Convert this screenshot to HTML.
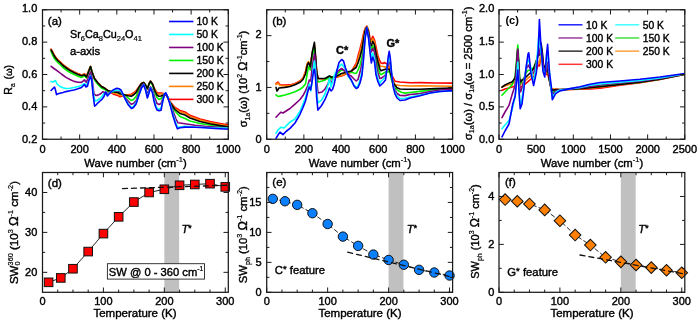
<!DOCTYPE html>
<html><head><meta charset="utf-8"><title>Figure</title>
<style>html,body{margin:0;padding:0;background:#fff;width:700px;height:321px;overflow:hidden}
svg{display:block;will-change:transform;font-family:"Liberation Sans", sans-serif}
text{stroke:#000;stroke-width:0.4px}
tspan[font-size^="6"],tspan[font-size^="7"],tspan[font-size^="8"]{stroke-width:0.2px}</style></head>
<body>
<svg width="700" height="321" viewBox="0 0 700 321" font-family='"Liberation Sans", sans-serif' fill="#000">
<rect x="0" y="0" width="700" height="321" fill="#fff"/>
<defs><clipPath id="ca"><rect x="42.5" y="9.75" width="185.8" height="129.5"/></clipPath><clipPath id="cb"><rect x="266.7" y="9.75" width="185.90000000000003" height="129.5"/></clipPath><clipPath id="cc"><rect x="499.0" y="9.75" width="185.79999999999995" height="129.5"/></clipPath></defs>
<g clip-path="url(#ca)">
<path d="M51.1 49.1 L52.5 51.6 L54 54.6 L56 57.6 L58.2 60.1 L60 61.6 L63 64.6 L66.3 67.1 L70 69.6 L74.4 71.9 L78 73.6 L81.5 74.9 L84.5 73.9 L86.5 76.1 L88.5 71.1 L90.5 66.5 L92 72 L94.6 78.8 L98 83 L101.4 86.5 L104.8 88.3 L108.3 90.8 L113.4 94.2 L118 95.5 L120 96.8 L125 95 L128 94.8 L131.2 94.3 L133.5 93 L136.2 90.6 L139 87 L141.5 83.5 L143.7 82.5 L145.5 85 L147.4 88.7 L149 84 L150.5 81.2 L152.5 84 L154.9 89.5 L157 92.5 L159 93 L161 93 L163.5 93.5 L165.8 94 L167.5 97 L170 101.5 L175 107.5 L180 110.5 L185 111.9 L190 115.3 L200 119 L210 121.5 L220 123.5 L229 125.1" fill="none" stroke="#ff0000" stroke-width="1.6" stroke-linejoin="round" stroke-linecap="round"/>
<path d="M51.1 49.4 L52.5 51.9 L54 54.9 L56 57.9 L58.2 60.4 L60 61.9 L63 64.9 L66.3 67.4 L70 69.9 L74.4 72.2 L78 73.9 L81.5 75.2 L84.5 74.2 L86.5 76.4 L88.5 71.4 L90.5 66.5 L92 72 L94.6 78.8 L98 83 L101.4 86.5 L104.8 88.3 L108.3 90.8 L113.4 93 L118 94 L120 95.5 L125 95 L128 95.2 L131.2 95 L133.5 94 L136.2 91.2 L139 87 L141.5 83.5 L143.7 82.5 L145.5 85 L147.4 88.7 L149 84 L150.5 81.2 L152.5 84 L154.9 90 L157 93.5 L159 94.3 L161 94 L163.5 94 L165.8 94 L167.5 97 L170 102 L175 108.3 L180 111.8 L185 113.3 L190 116.5 L200 120 L210 122.5 L220 124.5 L229 126.1" fill="none" stroke="#ff8000" stroke-width="1.6" stroke-linejoin="round" stroke-linecap="round"/>
<path d="M51.1 51.5 L52.5 55 L54 58 L56 60.5 L58.2 63 L60 64.5 L63 67.5 L66.3 70 L70 72.5 L74.4 74.5 L78 76.3 L81.5 77.4 L84.5 76 L86.5 78 L88.5 72 L90.5 66.8 L92 72 L94.6 80 L98 84.5 L101.4 88 L104.8 89.5 L108.3 91.5 L113.4 92 L118 92.5 L120 93 L125 95 L128 97.8 L131.2 100.5 L133.5 99.5 L136.2 96.2 L139 89.5 L141.5 84 L143.7 82.5 L145.5 85 L147.4 88.7 L149 84 L150.5 81.8 L152.5 85 L154.9 92.5 L157 97.5 L159 99.5 L161 98.5 L163.5 95.5 L165.8 93.8 L167.5 97 L170 102.5 L175 111 L180 116.5 L185 118.5 L190 121 L200 123.5 L210 125 L220 126.3 L229 127.5" fill="none" stroke="#00f000" stroke-width="1.6" stroke-linejoin="round" stroke-linecap="round"/>
<path d="M51.1 50 L52.5 52.5 L54 55.5 L56 58.5 L58.2 61 L60 62.5 L63 65.5 L66.3 68 L70 70.5 L74.4 72.8 L78 74.5 L81.5 75.8 L84.5 74.8 L86.5 77 L88.5 72 L90.5 66.5 L92 72 L94.6 78.8 L98 83 L101.4 86.5 L104.8 88.3 L108.3 90.8 L113.4 91.7 L118 92.5 L120 93.7 L125 95 L128 95.8 L131.2 96.2 L133.5 95 L136.2 92.4 L139 87 L141.5 83.5 L143.7 82.5 L145.5 85 L147.4 88.7 L149 84 L150.5 81.2 L152.5 84 L154.9 91 L157 95 L159 96.3 L161 96 L163.5 95 L165.8 94 L167.5 97 L170 102.5 L175 109.5 L180 113.5 L185 115.1 L190 118 L200 121.5 L210 123.8 L220 125.6 L229 127" fill="none" stroke="#000000" stroke-width="1.6" stroke-linejoin="round" stroke-linecap="round"/>
<path d="M51.1 66.3 L54 68.5 L58 71.3 L62 74.5 L66 77.4 L70 79.5 L74 81.4 L78 82.2 L81.5 82.4 L84.5 79.8 L86.5 82.4 L88.5 77 L90.5 72 L92 78 L94 94.2 L96 95.5 L98 95.1 L101 93.5 L103 91.7 L105.5 93.5 L108 93.4 L110.5 92 L113 91 L117 90.5 L121 92 L125 97.4 L128 101 L131.2 104.3 L133.5 103.5 L136.2 100.5 L139 93 L141.5 86 L143.7 83.5 L145.5 88 L147.4 94.3 L149 89.5 L150.5 86.8 L152.5 90 L154.9 98 L157 103.5 L159 104.5 L161 103.5 L163 98 L165.8 93.5 L167.5 97 L170 103 L173 111 L176 119 L178 122.8 L185 123.7 L195 125.2 L205 126.3 L215 127.1 L229 128" fill="none" stroke="#800080" stroke-width="1.6" stroke-linejoin="round" stroke-linecap="round"/>
<path d="M51.1 81.4 L53 82 L55.5 80.5 L57 84 L60 86.5 L63 87.8 L66 88.5 L70 88.2 L74 87.5 L78 86.5 L81.5 85.5 L84.5 83.5 L86.5 85.5 L88.5 81 L90.5 75.4 L92 82 L93.5 95 L95 101 L97 100.5 L100 98.5 L102 96.5 L104 93.4 L107 95.1 L110 92.5 L113 91 L117 90 L121 91 L125 98.5 L128 103.5 L131.2 107.4 L133.5 106.5 L136.2 102.5 L139 95 L141.5 88 L143.7 84.5 L145.5 89 L147.4 97 L149 92 L150.5 87.5 L152.5 92 L154 99 L155.5 104.5 L157 108.5 L159 109.3 L161 108.5 L162.8 100 L164.5 94 L165.8 93 L167.3 96 L169 100 L170.5 105 L173 114 L175.5 122 L177.4 127.5 L180 127 L185 126.2 L195 127 L210 127.8 L229 128" fill="none" stroke="#00ffff" stroke-width="1.6" stroke-linejoin="round" stroke-linecap="round"/>
<path d="M51.1 90.5 L53 88.5 L54.5 87.1 L55.5 90 L56.5 94.6 L58 93.8 L60 93.2 L63 92.5 L66 91.6 L70 90.8 L74 90 L78 88.8 L81.5 87.5 L83.5 85.5 L84.5 84.5 L86 87 L87.5 86 L89 80 L90.5 76.3 L91.7 80 L93 94.2 L94.6 106.2 L96 105 L98 102.8 L100 101 L102 99.4 L104 96.5 L105.7 91.7 L107.4 96 L109 94.2 L111 92 L113 90 L116.8 88.3 L119 88.8 L121 90 L123 94 L125.4 99.4 L128 104.5 L131.4 108.5 L133.5 107.5 L136.2 103.7 L139 95 L141.5 88 L143.7 85 L145.5 90 L147.4 98 L149 93 L150.5 88 L152.5 93 L154 101 L155.5 106.5 L157 110 L159 110.8 L161 110.3 L162.8 101 L164.5 94 L165.8 92.8 L167.3 96 L169 101 L170.5 106.5 L173 116 L175.5 124 L177.4 128.8 L180 127.8 L185 127.1 L195 127.3 L205 127.8 L215 128.5 L229 129.3" fill="none" stroke="#0000ff" stroke-width="1.6" stroke-linejoin="round" stroke-linecap="round"/>
</g>
<line x1="169.1" y1="21.5" x2="193.4" y2="21.5" stroke="#0000ff" stroke-width="1.6"/>
<text x="196.6" y="25.2" font-size="10.4" text-anchor="start" font-weight="normal" font-style="normal">10 K</text>
<line x1="169.1" y1="34.48" x2="193.4" y2="34.48" stroke="#00ffff" stroke-width="1.6"/>
<text x="196.6" y="38.18" font-size="10.4" text-anchor="start" font-weight="normal" font-style="normal">50 K</text>
<line x1="169.1" y1="47.46" x2="193.4" y2="47.46" stroke="#800080" stroke-width="1.6"/>
<text x="196.6" y="51.16" font-size="10.4" text-anchor="start" font-weight="normal" font-style="normal">100 K</text>
<line x1="169.1" y1="60.44" x2="193.4" y2="60.44" stroke="#00f000" stroke-width="1.6"/>
<text x="196.6" y="64.14" font-size="10.4" text-anchor="start" font-weight="normal" font-style="normal">150 K</text>
<line x1="169.1" y1="73.42" x2="193.4" y2="73.42" stroke="#000000" stroke-width="1.6"/>
<text x="196.6" y="77.12" font-size="10.4" text-anchor="start" font-weight="normal" font-style="normal">200 K</text>
<line x1="169.1" y1="86.4" x2="193.4" y2="86.4" stroke="#ff8000" stroke-width="1.6"/>
<text x="196.6" y="90.1" font-size="10.4" text-anchor="start" font-weight="normal" font-style="normal">250 K</text>
<line x1="169.1" y1="99.38" x2="193.4" y2="99.38" stroke="#ff0000" stroke-width="1.6"/>
<text x="196.6" y="103.08" font-size="10.4" text-anchor="start" font-weight="normal" font-style="normal">300 K</text>
<rect x="42.5" y="9.75" width="185.8" height="129.5" fill="none" stroke="#1a1a1a" stroke-width="1.25"/>
<line x1="42.5" y1="139.25" x2="42.5" y2="134.45" stroke="#1a1a1a" stroke-width="1.0"/>
<line x1="42.5" y1="9.75" x2="42.5" y2="14.55" stroke="#1a1a1a" stroke-width="1.0"/>
<line x1="79.66" y1="139.25" x2="79.66" y2="134.45" stroke="#1a1a1a" stroke-width="1.0"/>
<line x1="79.66" y1="9.75" x2="79.66" y2="14.55" stroke="#1a1a1a" stroke-width="1.0"/>
<line x1="116.82" y1="139.25" x2="116.82" y2="134.45" stroke="#1a1a1a" stroke-width="1.0"/>
<line x1="116.82" y1="9.75" x2="116.82" y2="14.55" stroke="#1a1a1a" stroke-width="1.0"/>
<line x1="153.98" y1="139.25" x2="153.98" y2="134.45" stroke="#1a1a1a" stroke-width="1.0"/>
<line x1="153.98" y1="9.75" x2="153.98" y2="14.55" stroke="#1a1a1a" stroke-width="1.0"/>
<line x1="191.14" y1="139.25" x2="191.14" y2="134.45" stroke="#1a1a1a" stroke-width="1.0"/>
<line x1="191.14" y1="9.75" x2="191.14" y2="14.55" stroke="#1a1a1a" stroke-width="1.0"/>
<line x1="228.3" y1="139.25" x2="228.3" y2="134.45" stroke="#1a1a1a" stroke-width="1.0"/>
<line x1="228.3" y1="9.75" x2="228.3" y2="14.55" stroke="#1a1a1a" stroke-width="1.0"/>
<line x1="61.08" y1="139.25" x2="61.08" y2="136.55" stroke="#1a1a1a" stroke-width="1.0"/>
<line x1="61.08" y1="9.75" x2="61.08" y2="12.45" stroke="#1a1a1a" stroke-width="1.0"/>
<line x1="98.24" y1="139.25" x2="98.24" y2="136.55" stroke="#1a1a1a" stroke-width="1.0"/>
<line x1="98.24" y1="9.75" x2="98.24" y2="12.45" stroke="#1a1a1a" stroke-width="1.0"/>
<line x1="135.4" y1="139.25" x2="135.4" y2="136.55" stroke="#1a1a1a" stroke-width="1.0"/>
<line x1="135.4" y1="9.75" x2="135.4" y2="12.45" stroke="#1a1a1a" stroke-width="1.0"/>
<line x1="172.56" y1="139.25" x2="172.56" y2="136.55" stroke="#1a1a1a" stroke-width="1.0"/>
<line x1="172.56" y1="9.75" x2="172.56" y2="12.45" stroke="#1a1a1a" stroke-width="1.0"/>
<line x1="209.72" y1="139.25" x2="209.72" y2="136.55" stroke="#1a1a1a" stroke-width="1.0"/>
<line x1="209.72" y1="9.75" x2="209.72" y2="12.45" stroke="#1a1a1a" stroke-width="1.0"/>
<line x1="42.5" y1="139.25" x2="47.3" y2="139.25" stroke="#1a1a1a" stroke-width="1.0"/>
<line x1="228.3" y1="139.25" x2="223.5" y2="139.25" stroke="#1a1a1a" stroke-width="1.0"/>
<line x1="42.5" y1="106.88" x2="47.3" y2="106.88" stroke="#1a1a1a" stroke-width="1.0"/>
<line x1="228.3" y1="106.88" x2="223.5" y2="106.88" stroke="#1a1a1a" stroke-width="1.0"/>
<line x1="42.5" y1="74.5" x2="47.3" y2="74.5" stroke="#1a1a1a" stroke-width="1.0"/>
<line x1="228.3" y1="74.5" x2="223.5" y2="74.5" stroke="#1a1a1a" stroke-width="1.0"/>
<line x1="42.5" y1="42.12" x2="47.3" y2="42.12" stroke="#1a1a1a" stroke-width="1.0"/>
<line x1="228.3" y1="42.12" x2="223.5" y2="42.12" stroke="#1a1a1a" stroke-width="1.0"/>
<line x1="42.5" y1="9.75" x2="47.3" y2="9.75" stroke="#1a1a1a" stroke-width="1.0"/>
<line x1="228.3" y1="9.75" x2="223.5" y2="9.75" stroke="#1a1a1a" stroke-width="1.0"/>
<line x1="42.5" y1="123.06" x2="45.2" y2="123.06" stroke="#1a1a1a" stroke-width="1.0"/>
<line x1="228.3" y1="123.06" x2="225.6" y2="123.06" stroke="#1a1a1a" stroke-width="1.0"/>
<line x1="42.5" y1="90.69" x2="45.2" y2="90.69" stroke="#1a1a1a" stroke-width="1.0"/>
<line x1="228.3" y1="90.69" x2="225.6" y2="90.69" stroke="#1a1a1a" stroke-width="1.0"/>
<line x1="42.5" y1="58.31" x2="45.2" y2="58.31" stroke="#1a1a1a" stroke-width="1.0"/>
<line x1="228.3" y1="58.31" x2="225.6" y2="58.31" stroke="#1a1a1a" stroke-width="1.0"/>
<line x1="42.5" y1="25.94" x2="45.2" y2="25.94" stroke="#1a1a1a" stroke-width="1.0"/>
<line x1="228.3" y1="25.94" x2="225.6" y2="25.94" stroke="#1a1a1a" stroke-width="1.0"/>
<text x="37.3" y="142.85" font-size="11" text-anchor="end" font-weight="normal" font-style="normal">0.2</text>
<text x="37.3" y="110.2" font-size="11" text-anchor="end" font-weight="normal" font-style="normal">0.4</text>
<text x="37.3" y="77.55" font-size="11" text-anchor="end" font-weight="normal" font-style="normal">0.6</text>
<text x="37.3" y="44.9" font-size="11" text-anchor="end" font-weight="normal" font-style="normal">0.8</text>
<text x="37.3" y="12.25" font-size="11" text-anchor="end" font-weight="normal" font-style="normal">1.0</text>
<text x="42.5" y="153" font-size="11" text-anchor="middle" font-weight="normal" font-style="normal">0</text>
<text x="79.66" y="153" font-size="11" text-anchor="middle" font-weight="normal" font-style="normal">200</text>
<text x="116.82" y="153" font-size="11" text-anchor="middle" font-weight="normal" font-style="normal">400</text>
<text x="153.98" y="153" font-size="11" text-anchor="middle" font-weight="normal" font-style="normal">600</text>
<text x="191.14" y="153" font-size="11" text-anchor="middle" font-weight="normal" font-style="normal">800</text>
<text x="228.3" y="153" font-size="11" text-anchor="middle" font-weight="normal" font-style="normal">1000</text>
<text x="47.8" y="24.8" font-size="11.5" text-anchor="start" font-weight="normal" font-style="normal">(a)</text>
<text x="70" y="38.3" font-size="10.8">Sr<tspan font-size="7.5" dy="3">6</tspan><tspan dy="-3">Ca</tspan><tspan font-size="7.5" dy="3">8</tspan><tspan dy="-3">Cu</tspan><tspan font-size="7.5" dy="3">24</tspan><tspan dy="-3">O</tspan><tspan font-size="7.5" dy="3">41</tspan></text>
<text x="70" y="55.2" font-size="11.3" text-anchor="start" font-weight="normal" font-style="normal">a-axis</text>
<text x="135.5" y="167" font-size="11.3" text-anchor="middle">Wave number (cm<tspan font-size="7.5" dy="-5.3">-1</tspan><tspan dy="5.3">)</tspan></text>
<text transform="translate(12.2,79.8) rotate(-90)" font-size="10.6" text-anchor="middle"><tspan font-size="10.6">R</tspan><tspan font-size="6.78" style="stroke-width:0.2px" dy="2.65">a</tspan><tspan font-size="10.6" dy="-2.65" dx="0.8"> (</tspan><tspan font-size="9.75">ω</tspan><tspan font-size="10.6">)</tspan></text>
<g clip-path="url(#cb)">
<path d="M276 83.6 L278 82 L280 84.9 L285 85 L290 84.9 L295 83.5 L300 81 L303 78 L305.5 71.5 L307.3 64 L308.5 62.5 L310.3 65.5 L312.3 54 L314.4 46 L315.5 58 L316.7 72 L318 78.5 L325 79 L330 77.5 L336 77.2 L341.6 76 L345.5 74.3 L351.2 72.2 L354 67 L356.2 63.5 L358 56 L360 49 L362 41 L363.5 34 L365 28.5 L366.8 26.2 L368.5 30 L370.3 40.5 L371.3 39.5 L372.8 36.3 L374.5 40 L376 47 L378 56 L379.8 61 L381 63 L383 63.5 L384.4 62.5 L386 63.5 L388 64.3 L390 70 L392 75.5 L395 81.2 L400 82 L410 82.8 L420 82.6 L435 83 L454 83.1" fill="none" stroke="#ff0000" stroke-width="1.6" stroke-linejoin="round" stroke-linecap="round"/>
<path d="M276 84.5 L278 83 L280 85.5 L285 86 L290 85.5 L295 84 L300 81.5 L303 78.5 L305.5 72 L307.3 63.5 L308.5 61.5 L310.3 65 L312.3 53 L314.4 44.5 L315.5 57 L316.7 72 L318 78.5 L325 79 L330 77.5 L336 77 L341.6 75.5 L345.5 73.8 L351.2 72 L354 68 L356.2 65.5 L358 59 L360 52 L362 44 L363.5 36 L365 29.5 L366.8 26.5 L368.5 31 L370.3 41.5 L371.3 42 L372.8 38.5 L374.5 42 L376 50 L378 59 L379.8 65.5 L381 66.2 L383 66.5 L386 67.1 L388 67.5 L389.2 67 L390.5 71 L392 78 L395 84.9 L400 85.5 L410 86 L420 85.9 L435 86 L454 86.2" fill="none" stroke="#ff8000" stroke-width="1.6" stroke-linejoin="round" stroke-linecap="round"/>
<path d="M276 94.8 L278 96.5 L280 96.1 L285 95 L290 93.6 L295 91.7 L300 89.3 L303 87 L305.5 83.9 L307.5 72 L308.5 66.5 L310.3 70 L312 58 L314.4 47.4 L315.5 58 L316.7 74 L318 82 L322 81 L325 80 L328 78 L329.5 76 L331 79 L332.5 77 L334 76.5 L337 74 L341.6 70 L345.5 71 L351.2 72.2 L354 73 L356.2 73.5 L358 70 L360 65 L362 57 L363.5 46 L365 33 L366.8 27.2 L368.5 33 L370.3 47 L371.3 49 L372.8 45.7 L374.5 50 L376 58 L378 67 L379.8 73.5 L381 74.6 L383 73.5 L386 71.8 L388 72 L389.2 71 L390.5 75 L392 82 L395 88 L398 90.5 L402 92.5 L405 93.1 L410 92.5 L420 91.4 L435 89.5 L454 88.7" fill="none" stroke="#00f000" stroke-width="1.6" stroke-linejoin="round" stroke-linecap="round"/>
<path d="M276 87.4 L277 91.1 L279 88 L285 87.4 L290 86.5 L295 84.7 L300 82.3 L303 79.5 L305.5 74 L307.3 65 L308.5 62.6 L310.3 66.8 L312.3 52 L314.4 42.4 L315.5 55 L316.7 72 L318 78.5 L325 78.5 L329.5 76 L332 77.5 L336 76.5 L341.6 73.5 L345.5 72.5 L351.2 71 L354 69 L356.2 67.3 L358 63 L360 57 L362 49 L363.5 40 L365 31 L366.8 27.2 L368.5 32 L370.3 44 L371.3 45.7 L372.8 41.4 L374.5 45 L376 53 L378 62 L379.8 68.5 L381 70.8 L383 70 L386 69 L388 69.5 L389.2 69 L390.5 73 L392 79 L394 84 L397 87.7 L400 89 L405 89.3 L420 89.2 L435 88.6 L454 88.1" fill="none" stroke="#000000" stroke-width="1.6" stroke-linejoin="round" stroke-linecap="round"/>
<path d="M276 117.2 L279 114 L281 112.2 L283 113 L290 108.5 L295 104.1 L300 99.5 L303 95.6 L305.5 90.9 L307.8 85.5 L309.3 80 L310.8 81 L312.3 66 L314.5 53.6 L315.5 62 L316.7 80 L318 93 L322 92 L325 89 L328 84 L329.5 79 L331 84 L332.5 80 L334 77 L336 74 L338 71 L341.6 68.5 L345.5 71.5 L348 74.5 L351.2 76 L354 79 L356.2 81 L358 79.5 L360 72 L362 64 L363.5 52 L365 36 L366.8 27.3 L368.5 35 L370.3 49 L371.3 52 L372.8 48.3 L374.5 52 L376 63 L378 73 L379.8 78.5 L381 78.3 L383 77 L385.5 75 L387 69 L388.2 64 L389.2 62 L390.3 65 L391.5 74 L393 84 L395 90 L397 93.5 L400 95.5 L405 95.6 L410 94.5 L420 93.6 L430 91.5 L440 90 L454 89.3" fill="none" stroke="#800080" stroke-width="1.6" stroke-linejoin="round" stroke-linecap="round"/>
<path d="M276 133.4 L278 130 L281 127.2 L284 128 L290 122.2 L295 119 L300 111.2 L303 104.1 L305.5 97.9 L307.8 89.3 L309.3 84 L310.8 91 L312.3 80 L313.6 66 L314.5 61 L315.5 70 L316.7 90 L317.9 103 L321.6 100 L325 94 L328 85 L329.5 78.4 L331 87 L332.5 82 L334 76 L336 72 L338 68 L341.6 64 L345.5 69 L348 76 L351.2 80.5 L354 85 L356.2 87.2 L358 86 L360 80 L362 72 L363.5 57 L365 38 L366.8 27.5 L368.5 37 L370.3 52 L371.3 58 L372.8 53 L374.5 58 L376 70 L378 79 L379.8 83.4 L381 81.1 L383 79.5 L385.5 77 L387 68 L388.2 60 L389.2 57 L390.3 61 L391.5 72 L393 84 L395 92 L397 96 L400 98.5 L405 98.2 L410 97 L420 95 L430 93 L440 91.5 L454 90.6" fill="none" stroke="#00ffff" stroke-width="1.6" stroke-linejoin="round" stroke-linecap="round"/>
<path d="M276 138.4 L278 135 L280 132.1 L283 134.6 L286 131.5 L290 128.4 L295 123 L300 114.3 L303.1 107.3 L305.5 101 L307.8 91.7 L309.2 87 L310.6 90 L312 82 L313.5 71 L314.5 69.2 L315.5 78 L316.7 98 L317.9 110.1 L321.6 105.5 L325.3 98.9 L328.1 92 L329.5 88 L331 91 L332.5 89.5 L334 85 L335.5 78 L337 70 L339 62.5 L341.6 59.5 L343.5 61 L345.5 68 L348 75 L351.2 79.7 L354 86 L356.2 88.5 L358 87.5 L360 83 L362 75 L363.5 60 L365 40 L366.8 27.7 L368.5 38 L370.3 55 L371.3 63 L372.8 57 L374.5 62 L376 74.8 L378 82 L379.8 85.9 L381 84.9 L383 83 L385.5 80 L387 68 L388.2 57 L389.2 51.4 L390.3 58 L391.5 72 L393 86 L395 94 L397 98 L400 100.5 L405 100 L410 98 L420 95.7 L430 93 L440 91.5 L454 90.6" fill="none" stroke="#0000ff" stroke-width="1.6" stroke-linejoin="round" stroke-linecap="round"/>
</g>
<rect x="266.7" y="9.75" width="185.9" height="129.5" fill="none" stroke="#1a1a1a" stroke-width="1.25"/>
<line x1="266.7" y1="139.25" x2="266.7" y2="134.45" stroke="#1a1a1a" stroke-width="1.0"/>
<line x1="266.7" y1="9.75" x2="266.7" y2="14.55" stroke="#1a1a1a" stroke-width="1.0"/>
<line x1="303.88" y1="139.25" x2="303.88" y2="134.45" stroke="#1a1a1a" stroke-width="1.0"/>
<line x1="303.88" y1="9.75" x2="303.88" y2="14.55" stroke="#1a1a1a" stroke-width="1.0"/>
<line x1="341.06" y1="139.25" x2="341.06" y2="134.45" stroke="#1a1a1a" stroke-width="1.0"/>
<line x1="341.06" y1="9.75" x2="341.06" y2="14.55" stroke="#1a1a1a" stroke-width="1.0"/>
<line x1="378.24" y1="139.25" x2="378.24" y2="134.45" stroke="#1a1a1a" stroke-width="1.0"/>
<line x1="378.24" y1="9.75" x2="378.24" y2="14.55" stroke="#1a1a1a" stroke-width="1.0"/>
<line x1="415.42" y1="139.25" x2="415.42" y2="134.45" stroke="#1a1a1a" stroke-width="1.0"/>
<line x1="415.42" y1="9.75" x2="415.42" y2="14.55" stroke="#1a1a1a" stroke-width="1.0"/>
<line x1="452.6" y1="139.25" x2="452.6" y2="134.45" stroke="#1a1a1a" stroke-width="1.0"/>
<line x1="452.6" y1="9.75" x2="452.6" y2="14.55" stroke="#1a1a1a" stroke-width="1.0"/>
<line x1="285.29" y1="139.25" x2="285.29" y2="136.55" stroke="#1a1a1a" stroke-width="1.0"/>
<line x1="285.29" y1="9.75" x2="285.29" y2="12.45" stroke="#1a1a1a" stroke-width="1.0"/>
<line x1="322.47" y1="139.25" x2="322.47" y2="136.55" stroke="#1a1a1a" stroke-width="1.0"/>
<line x1="322.47" y1="9.75" x2="322.47" y2="12.45" stroke="#1a1a1a" stroke-width="1.0"/>
<line x1="359.65" y1="139.25" x2="359.65" y2="136.55" stroke="#1a1a1a" stroke-width="1.0"/>
<line x1="359.65" y1="9.75" x2="359.65" y2="12.45" stroke="#1a1a1a" stroke-width="1.0"/>
<line x1="396.83" y1="139.25" x2="396.83" y2="136.55" stroke="#1a1a1a" stroke-width="1.0"/>
<line x1="396.83" y1="9.75" x2="396.83" y2="12.45" stroke="#1a1a1a" stroke-width="1.0"/>
<line x1="434.01" y1="139.25" x2="434.01" y2="136.55" stroke="#1a1a1a" stroke-width="1.0"/>
<line x1="434.01" y1="9.75" x2="434.01" y2="12.45" stroke="#1a1a1a" stroke-width="1.0"/>
<line x1="266.7" y1="139.25" x2="271.5" y2="139.25" stroke="#1a1a1a" stroke-width="1.0"/>
<line x1="452.6" y1="139.25" x2="447.8" y2="139.25" stroke="#1a1a1a" stroke-width="1.0"/>
<line x1="266.7" y1="87.45" x2="271.5" y2="87.45" stroke="#1a1a1a" stroke-width="1.0"/>
<line x1="452.6" y1="87.45" x2="447.8" y2="87.45" stroke="#1a1a1a" stroke-width="1.0"/>
<line x1="266.7" y1="35.65" x2="271.5" y2="35.65" stroke="#1a1a1a" stroke-width="1.0"/>
<line x1="452.6" y1="35.65" x2="447.8" y2="35.65" stroke="#1a1a1a" stroke-width="1.0"/>
<line x1="266.7" y1="113.35" x2="269.4" y2="113.35" stroke="#1a1a1a" stroke-width="1.0"/>
<line x1="452.6" y1="113.35" x2="449.9" y2="113.35" stroke="#1a1a1a" stroke-width="1.0"/>
<line x1="266.7" y1="61.55" x2="269.4" y2="61.55" stroke="#1a1a1a" stroke-width="1.0"/>
<line x1="452.6" y1="61.55" x2="449.9" y2="61.55" stroke="#1a1a1a" stroke-width="1.0"/>
<line x1="266.7" y1="9.75" x2="269.4" y2="9.75" stroke="#1a1a1a" stroke-width="1.0"/>
<line x1="452.6" y1="9.75" x2="449.9" y2="9.75" stroke="#1a1a1a" stroke-width="1.0"/>
<text x="261.5" y="142.85" font-size="11" text-anchor="end" font-weight="normal" font-style="normal">0</text>
<text x="261.5" y="90.61" font-size="11" text-anchor="end" font-weight="normal" font-style="normal">1</text>
<text x="261.5" y="38.37" font-size="11" text-anchor="end" font-weight="normal" font-style="normal">2</text>
<text x="266.7" y="153" font-size="11" text-anchor="middle" font-weight="normal" font-style="normal">0</text>
<text x="303.88" y="153" font-size="11" text-anchor="middle" font-weight="normal" font-style="normal">200</text>
<text x="341.06" y="153" font-size="11" text-anchor="middle" font-weight="normal" font-style="normal">400</text>
<text x="378.24" y="153" font-size="11" text-anchor="middle" font-weight="normal" font-style="normal">600</text>
<text x="415.42" y="153" font-size="11" text-anchor="middle" font-weight="normal" font-style="normal">800</text>
<text x="452.6" y="153" font-size="11" text-anchor="middle" font-weight="normal" font-style="normal">1000</text>
<text x="272.3" y="24.8" font-size="11.5" text-anchor="start" font-weight="normal" font-style="normal">(b)</text>
<text x="336" y="53.6" font-size="11" text-anchor="start" font-weight="bold" font-style="normal">C*</text>
<text x="386.4" y="47" font-size="11" text-anchor="start" font-weight="bold" font-style="normal">G*</text>
<text x="360" y="167" font-size="11.3" text-anchor="middle">Wave number (cm<tspan font-size="7.5" dy="-5.3">-1</tspan><tspan dy="5.3">)</tspan></text>
<text transform="translate(247,79) rotate(-90)" font-size="11" text-anchor="middle"><tspan font-size="11">σ</tspan><tspan font-size="7.04" style="stroke-width:0.2px" dy="2.75">1a</tspan><tspan font-size="11" dy="-2.75">(</tspan><tspan font-size="11">ω</tspan><tspan font-size="11">) (10</tspan><tspan font-size="7.04" style="stroke-width:0.2px" dy="-4.62">2</tspan><tspan font-size="11" dy="4.62"> </tspan><tspan font-size="12.32">Ω</tspan><tspan font-size="7.04" style="stroke-width:0.2px" dy="-4.62">-1</tspan><tspan font-size="11" dy="4.62">cm</tspan><tspan font-size="7.04" style="stroke-width:0.2px" dy="-4.62">-1</tspan><tspan font-size="11" dy="4.62">)</tspan></text>
<g clip-path="url(#cc)">
<path d="M502 90.2 L505 89 L509 88 L512 87 L515.2 86 L516.5 80 L517.8 74 L518.8 80 L519.8 87 L521 87 L523 86 L525 84 L528 81.7 L531 79 L534 76 L536 71 L538 65 L539.5 66 L541.1 55 L542.5 62 L544 70 L546 74 L548 75 L549.5 81 L551 88 L552 89.5 L556 89.5 L560 89.8 L570 89.5 L580 89.2 L590 89 L600 88.1 L620 85.3 L640 82.6 L660 79.5 L686 74.1" fill="none" stroke="#ff0000" stroke-width="1.6" stroke-linejoin="round" stroke-linecap="round"/>
<path d="M502 87 L505 86 L509 84.5 L512 84 L515.2 82 L516.5 76 L517.8 68 L518.8 75 L519.8 84 L521 84 L523 83 L525 81 L528 78 L531 76 L534 73 L536 68 L538 62 L539.5 63 L541.1 52 L542.5 60 L544 68 L546 72 L548 73 L549.5 80 L551 87 L552 89 L556 89 L560 89.5 L570 89.4 L580 89 L590 88.3 L600 87.3 L620 84.8 L640 82.4 L660 79.3 L686 74" fill="none" stroke="#ff8000" stroke-width="1.6" stroke-linejoin="round" stroke-linecap="round"/>
<path d="M502 95.3 L505 92 L509 88 L512 85 L515.2 76 L516.5 60 L517.8 45 L518.8 60 L519.8 80 L520.5 84 L522 81 L524 78 L526 73 L528 70.5 L531 70 L534 67 L536 62 L537.5 57 L538.7 50 L539.7 54 L541.1 45 L542.3 54 L543.5 66 L546 71 L547.5 67 L549 78 L551 88 L552 93 L556 90 L560 89.7 L570 89.2 L580 88.5 L590 87.1 L600 86.2 L620 84 L640 82.1 L660 79 L686 74" fill="none" stroke="#00f000" stroke-width="1.6" stroke-linejoin="round" stroke-linecap="round"/>
<path d="M502 87.2 L505 85 L509 83.1 L512 82 L515.2 78 L516.5 65 L517.6 50 L518.6 62 L519.5 78 L520.5 82 L522 80 L524 79 L526 77 L528 75 L531 72.4 L534 67.7 L536 62 L537.5 57 L538.7 52 L539.7 55 L541.1 43.4 L542.3 52 L543.5 64.9 L546 70.5 L547.5 68 L549 78 L551 87.3 L552 90.4 L556 89.5 L560 89.6 L570 89.3 L580 88.8 L590 87.8 L600 86.7 L620 84.5 L640 82.3 L660 79.2 L686 74" fill="none" stroke="#000000" stroke-width="1.6" stroke-linejoin="round" stroke-linecap="round"/>
<path d="M502 117.6 L505 112 L509 105.4 L512 95 L515.2 85 L516.5 68 L517.8 49 L518.8 66 L519.8 88 L520.5 92 L522 88 L524 80 L526 70 L528 65 L530 68 L532 74 L534 72 L536 64 L537.5 56 L538.7 48 L539.7 54 L541.1 50 L542.3 56 L543.5 68 L546 72 L547.5 62 L549 76 L551 89 L552 95 L556 90.5 L560 89.8 L570 89 L580 88 L590 86.5 L600 85 L620 83 L640 81.3 L660 78.5 L686 73.8" fill="none" stroke="#800080" stroke-width="1.6" stroke-linejoin="round" stroke-linecap="round"/>
<path d="M502 128.7 L505 125 L509 120.6 L512 110 L515.2 96 L516.5 80 L517.8 62 L518.8 80 L519.8 105 L521 104 L523 92 L525 75 L527 63 L528.5 60 L530.5 66 L532.5 78 L534 80 L536 68 L537.5 52 L538.8 35 L540 45 L541.3 55 L543 70 L545 74 L547.5 50 L549 68 L551 88 L552.3 97.4 L556 92 L560 90 L570 88.8 L580 87.5 L590 85.3 L600 84 L620 82.2 L640 80.5 L660 78 L686 73.6" fill="none" stroke="#00ffff" stroke-width="1.6" stroke-linejoin="round" stroke-linecap="round"/>
<path d="M502 136.8 L505 131 L509 124 L512.75 104 L515.2 96 L516.5 82 L517.8 70 L518.8 88 L520.2 108.75 L522 104 L524 88 L526 68 L528 54 L528.8 52.8 L530.8 72.4 L533.6 85.5 L536.4 72.4 L538.3 50 L539.4 19.5 L540.6 40 L543 71.4 L544.8 77 L546.5 55 L547.6 44.3 L549.5 72.4 L551.4 87.3 L552.3 99.8 L555.6 93.7 L560 90.9 L570 88.6 L580 86.7 L590 84.3 L600 82.5 L620 81 L640 79.3 L660 77 L686 73.3" fill="none" stroke="#0000ff" stroke-width="1.6" stroke-linejoin="round" stroke-linecap="round"/>
</g>
<line x1="558.5" y1="24.8" x2="582.5" y2="24.8" stroke="#2020ff" stroke-width="1.5"/>
<text x="586.1" y="28.5" font-size="10.3" text-anchor="start" font-weight="normal" font-style="normal">10 K</text>
<line x1="615.2" y1="24.8" x2="639.2" y2="24.8" stroke="#40ffff" stroke-width="1.5"/>
<text x="642.8" y="28.5" font-size="10.3" text-anchor="start" font-weight="normal" font-style="normal">50 K</text>
<line x1="558.5" y1="37.97" x2="582.5" y2="37.97" stroke="#9b3a9b" stroke-width="1.5"/>
<text x="586.1" y="41.67" font-size="10.3" text-anchor="start" font-weight="normal" font-style="normal">100 K</text>
<line x1="615.2" y1="37.97" x2="639.2" y2="37.97" stroke="#40e040" stroke-width="1.5"/>
<text x="642.8" y="41.67" font-size="10.3" text-anchor="start" font-weight="normal" font-style="normal">150 K</text>
<line x1="558.5" y1="51.14" x2="582.5" y2="51.14" stroke="#303030" stroke-width="1.5"/>
<text x="586.1" y="54.84" font-size="10.3" text-anchor="start" font-weight="normal" font-style="normal">200 K</text>
<line x1="615.2" y1="51.14" x2="639.2" y2="51.14" stroke="#ffa040" stroke-width="1.5"/>
<text x="642.8" y="54.84" font-size="10.3" text-anchor="start" font-weight="normal" font-style="normal">250 K</text>
<line x1="558.5" y1="64.31" x2="582.5" y2="64.31" stroke="#ff3535" stroke-width="1.5"/>
<text x="586.1" y="68.01" font-size="10.3" text-anchor="start" font-weight="normal" font-style="normal">300 K</text>
<rect x="499" y="9.75" width="185.8" height="129.5" fill="none" stroke="#1a1a1a" stroke-width="1.25"/>
<line x1="499" y1="139.25" x2="499" y2="134.45" stroke="#1a1a1a" stroke-width="1.0"/>
<line x1="499" y1="9.75" x2="499" y2="14.55" stroke="#1a1a1a" stroke-width="1.0"/>
<line x1="536.16" y1="139.25" x2="536.16" y2="134.45" stroke="#1a1a1a" stroke-width="1.0"/>
<line x1="536.16" y1="9.75" x2="536.16" y2="14.55" stroke="#1a1a1a" stroke-width="1.0"/>
<line x1="573.32" y1="139.25" x2="573.32" y2="134.45" stroke="#1a1a1a" stroke-width="1.0"/>
<line x1="573.32" y1="9.75" x2="573.32" y2="14.55" stroke="#1a1a1a" stroke-width="1.0"/>
<line x1="610.48" y1="139.25" x2="610.48" y2="134.45" stroke="#1a1a1a" stroke-width="1.0"/>
<line x1="610.48" y1="9.75" x2="610.48" y2="14.55" stroke="#1a1a1a" stroke-width="1.0"/>
<line x1="647.64" y1="139.25" x2="647.64" y2="134.45" stroke="#1a1a1a" stroke-width="1.0"/>
<line x1="647.64" y1="9.75" x2="647.64" y2="14.55" stroke="#1a1a1a" stroke-width="1.0"/>
<line x1="684.8" y1="139.25" x2="684.8" y2="134.45" stroke="#1a1a1a" stroke-width="1.0"/>
<line x1="684.8" y1="9.75" x2="684.8" y2="14.55" stroke="#1a1a1a" stroke-width="1.0"/>
<line x1="517.58" y1="139.25" x2="517.58" y2="136.55" stroke="#1a1a1a" stroke-width="1.0"/>
<line x1="517.58" y1="9.75" x2="517.58" y2="12.45" stroke="#1a1a1a" stroke-width="1.0"/>
<line x1="554.74" y1="139.25" x2="554.74" y2="136.55" stroke="#1a1a1a" stroke-width="1.0"/>
<line x1="554.74" y1="9.75" x2="554.74" y2="12.45" stroke="#1a1a1a" stroke-width="1.0"/>
<line x1="591.9" y1="139.25" x2="591.9" y2="136.55" stroke="#1a1a1a" stroke-width="1.0"/>
<line x1="591.9" y1="9.75" x2="591.9" y2="12.45" stroke="#1a1a1a" stroke-width="1.0"/>
<line x1="629.06" y1="139.25" x2="629.06" y2="136.55" stroke="#1a1a1a" stroke-width="1.0"/>
<line x1="629.06" y1="9.75" x2="629.06" y2="12.45" stroke="#1a1a1a" stroke-width="1.0"/>
<line x1="666.22" y1="139.25" x2="666.22" y2="136.55" stroke="#1a1a1a" stroke-width="1.0"/>
<line x1="666.22" y1="9.75" x2="666.22" y2="12.45" stroke="#1a1a1a" stroke-width="1.0"/>
<line x1="499" y1="139.25" x2="503.8" y2="139.25" stroke="#1a1a1a" stroke-width="1.0"/>
<line x1="684.8" y1="139.25" x2="680" y2="139.25" stroke="#1a1a1a" stroke-width="1.0"/>
<line x1="499" y1="106.88" x2="503.8" y2="106.88" stroke="#1a1a1a" stroke-width="1.0"/>
<line x1="684.8" y1="106.88" x2="680" y2="106.88" stroke="#1a1a1a" stroke-width="1.0"/>
<line x1="499" y1="74.5" x2="503.8" y2="74.5" stroke="#1a1a1a" stroke-width="1.0"/>
<line x1="684.8" y1="74.5" x2="680" y2="74.5" stroke="#1a1a1a" stroke-width="1.0"/>
<line x1="499" y1="42.12" x2="503.8" y2="42.12" stroke="#1a1a1a" stroke-width="1.0"/>
<line x1="684.8" y1="42.12" x2="680" y2="42.12" stroke="#1a1a1a" stroke-width="1.0"/>
<line x1="499" y1="9.75" x2="503.8" y2="9.75" stroke="#1a1a1a" stroke-width="1.0"/>
<line x1="684.8" y1="9.75" x2="680" y2="9.75" stroke="#1a1a1a" stroke-width="1.0"/>
<line x1="499" y1="123.06" x2="501.7" y2="123.06" stroke="#1a1a1a" stroke-width="1.0"/>
<line x1="684.8" y1="123.06" x2="682.1" y2="123.06" stroke="#1a1a1a" stroke-width="1.0"/>
<line x1="499" y1="90.69" x2="501.7" y2="90.69" stroke="#1a1a1a" stroke-width="1.0"/>
<line x1="684.8" y1="90.69" x2="682.1" y2="90.69" stroke="#1a1a1a" stroke-width="1.0"/>
<line x1="499" y1="58.31" x2="501.7" y2="58.31" stroke="#1a1a1a" stroke-width="1.0"/>
<line x1="684.8" y1="58.31" x2="682.1" y2="58.31" stroke="#1a1a1a" stroke-width="1.0"/>
<line x1="499" y1="25.94" x2="501.7" y2="25.94" stroke="#1a1a1a" stroke-width="1.0"/>
<line x1="684.8" y1="25.94" x2="682.1" y2="25.94" stroke="#1a1a1a" stroke-width="1.0"/>
<text x="494.3" y="142.85" font-size="11" text-anchor="end" font-weight="normal" font-style="normal">0.0</text>
<text x="494.3" y="110.2" font-size="11" text-anchor="end" font-weight="normal" font-style="normal">0.5</text>
<text x="494.3" y="77.55" font-size="11" text-anchor="end" font-weight="normal" font-style="normal">1.0</text>
<text x="494.3" y="44.9" font-size="11" text-anchor="end" font-weight="normal" font-style="normal">1.5</text>
<text x="494.3" y="12.25" font-size="11" text-anchor="end" font-weight="normal" font-style="normal">2.0</text>
<text x="499" y="153" font-size="11" text-anchor="middle" font-weight="normal" font-style="normal">0</text>
<text x="536.16" y="153" font-size="11" text-anchor="middle" font-weight="normal" font-style="normal">500</text>
<text x="573.32" y="153" font-size="11" text-anchor="middle" font-weight="normal" font-style="normal">1000</text>
<text x="610.48" y="153" font-size="11" text-anchor="middle" font-weight="normal" font-style="normal">1500</text>
<text x="647.64" y="153" font-size="11" text-anchor="middle" font-weight="normal" font-style="normal">2000</text>
<text x="684.8" y="153" font-size="11" text-anchor="middle" font-weight="normal" font-style="normal">2500</text>
<text x="505.4" y="24.4" font-size="11" text-anchor="start" font-weight="bold" font-style="normal" style="stroke-width:0">(c)</text>
<text x="592" y="167" font-size="11.3" text-anchor="middle">Wave number (cm<tspan font-size="7.5" dy="-5.3">-1</tspan><tspan dy="5.3">)</tspan></text>
<text transform="translate(471.5,73.4) rotate(-90)" font-size="11.2" text-anchor="middle"><tspan font-size="11.2">σ</tspan><tspan font-size="7.17" style="stroke-width:0.2px" dy="2.8">1a</tspan><tspan font-size="11.2" dy="-2.8">(</tspan><tspan font-size="11.2">ω</tspan><tspan font-size="11.2">) / </tspan><tspan font-size="11.2">σ</tspan><tspan font-size="7.17" style="stroke-width:0.2px" dy="2.8">1a</tspan><tspan font-size="11.2" dy="-2.8">(</tspan><tspan font-size="11.2">ω</tspan><tspan font-size="11.2"> = 2500 cm</tspan><tspan font-size="7.17" style="stroke-width:0.2px" dy="-4.7">-1</tspan><tspan font-size="11.2" dy="4.7">)</tspan></text>
<rect x="164.34" y="172.5" width="14.8" height="119.80000000000001" fill="#c0c0c0"/>
<path d="M48.59 282.32 L60.78 277.92 L72.96 268.74 L88.19 251.57 L103.42 233.6 L118.65 216.83 L133.88 202.05 L149.11 192.47 L164.34 189.27 L179.57 185.28 L194.8 184.48 L210.02 183.68 L225.25 186.88" fill="none" stroke="#111" stroke-width="0.9" stroke-linejoin="round" stroke-linecap="round"/>
<rect x="44.29" y="278.02" width="8.6" height="8.6" fill="#ff0000" stroke="#111" stroke-width="1"/>
<rect x="56.48" y="273.62" width="8.6" height="8.6" fill="#ff0000" stroke="#111" stroke-width="1"/>
<rect x="68.66" y="264.44" width="8.6" height="8.6" fill="#ff0000" stroke="#111" stroke-width="1"/>
<rect x="83.89" y="247.27" width="8.6" height="8.6" fill="#ff0000" stroke="#111" stroke-width="1"/>
<rect x="99.12" y="229.3" width="8.6" height="8.6" fill="#ff0000" stroke="#111" stroke-width="1"/>
<rect x="114.35" y="212.53" width="8.6" height="8.6" fill="#ff0000" stroke="#111" stroke-width="1"/>
<rect x="129.58" y="197.75" width="8.6" height="8.6" fill="#ff0000" stroke="#111" stroke-width="1"/>
<rect x="144.81" y="188.17" width="8.6" height="8.6" fill="#ff0000" stroke="#111" stroke-width="1"/>
<rect x="160.04" y="184.97" width="8.6" height="8.6" fill="#ff0000" stroke="#111" stroke-width="1"/>
<rect x="175.27" y="180.98" width="8.6" height="8.6" fill="#ff0000" stroke="#111" stroke-width="1"/>
<rect x="190.5" y="180.18" width="8.6" height="8.6" fill="#ff0000" stroke="#111" stroke-width="1"/>
<rect x="205.72" y="179.38" width="8.6" height="8.6" fill="#ff0000" stroke="#111" stroke-width="1"/>
<rect x="220.95" y="182.58" width="8.6" height="8.6" fill="#ff0000" stroke="#111" stroke-width="1"/>
<path d="M122.5 188.6 L228 185.2" fill="none" stroke="#111" stroke-width="1.3" stroke-linejoin="round" stroke-linecap="round" stroke-dasharray="5 4"/>
<rect x="107.4" y="263.7" width="97.1" height="15.4" fill="#fff" stroke="#222" stroke-width="0.9"/>
<text x="108.8" y="276.4" font-size="11.2">SW @ 0 - 360 cm<tspan font-size="6.8" dy="-5.5">-1</tspan></text>
<rect x="42.5" y="172.5" width="185.8" height="119.8" fill="none" stroke="#1a1a1a" stroke-width="1.25"/>
<line x1="42.5" y1="292.3" x2="42.5" y2="287.5" stroke="#1a1a1a" stroke-width="1.0"/>
<line x1="42.5" y1="172.5" x2="42.5" y2="177.3" stroke="#1a1a1a" stroke-width="1.0"/>
<line x1="103.42" y1="292.3" x2="103.42" y2="287.5" stroke="#1a1a1a" stroke-width="1.0"/>
<line x1="103.42" y1="172.5" x2="103.42" y2="177.3" stroke="#1a1a1a" stroke-width="1.0"/>
<line x1="164.34" y1="292.3" x2="164.34" y2="287.5" stroke="#1a1a1a" stroke-width="1.0"/>
<line x1="164.34" y1="172.5" x2="164.34" y2="177.3" stroke="#1a1a1a" stroke-width="1.0"/>
<line x1="225.25" y1="292.3" x2="225.25" y2="287.5" stroke="#1a1a1a" stroke-width="1.0"/>
<line x1="225.25" y1="172.5" x2="225.25" y2="177.3" stroke="#1a1a1a" stroke-width="1.0"/>
<line x1="57.73" y1="292.3" x2="57.73" y2="289.6" stroke="#1a1a1a" stroke-width="1.0"/>
<line x1="57.73" y1="172.5" x2="57.73" y2="175.2" stroke="#1a1a1a" stroke-width="1.0"/>
<line x1="72.96" y1="292.3" x2="72.96" y2="289.6" stroke="#1a1a1a" stroke-width="1.0"/>
<line x1="72.96" y1="172.5" x2="72.96" y2="175.2" stroke="#1a1a1a" stroke-width="1.0"/>
<line x1="88.19" y1="292.3" x2="88.19" y2="289.6" stroke="#1a1a1a" stroke-width="1.0"/>
<line x1="88.19" y1="172.5" x2="88.19" y2="175.2" stroke="#1a1a1a" stroke-width="1.0"/>
<line x1="118.65" y1="292.3" x2="118.65" y2="289.6" stroke="#1a1a1a" stroke-width="1.0"/>
<line x1="118.65" y1="172.5" x2="118.65" y2="175.2" stroke="#1a1a1a" stroke-width="1.0"/>
<line x1="133.88" y1="292.3" x2="133.88" y2="289.6" stroke="#1a1a1a" stroke-width="1.0"/>
<line x1="133.88" y1="172.5" x2="133.88" y2="175.2" stroke="#1a1a1a" stroke-width="1.0"/>
<line x1="149.11" y1="292.3" x2="149.11" y2="289.6" stroke="#1a1a1a" stroke-width="1.0"/>
<line x1="149.11" y1="172.5" x2="149.11" y2="175.2" stroke="#1a1a1a" stroke-width="1.0"/>
<line x1="179.57" y1="292.3" x2="179.57" y2="289.6" stroke="#1a1a1a" stroke-width="1.0"/>
<line x1="179.57" y1="172.5" x2="179.57" y2="175.2" stroke="#1a1a1a" stroke-width="1.0"/>
<line x1="194.8" y1="292.3" x2="194.8" y2="289.6" stroke="#1a1a1a" stroke-width="1.0"/>
<line x1="194.8" y1="172.5" x2="194.8" y2="175.2" stroke="#1a1a1a" stroke-width="1.0"/>
<line x1="210.02" y1="292.3" x2="210.02" y2="289.6" stroke="#1a1a1a" stroke-width="1.0"/>
<line x1="210.02" y1="172.5" x2="210.02" y2="175.2" stroke="#1a1a1a" stroke-width="1.0"/>
<line x1="42.5" y1="272.33" x2="47.3" y2="272.33" stroke="#1a1a1a" stroke-width="1.0"/>
<line x1="228.3" y1="272.33" x2="223.5" y2="272.33" stroke="#1a1a1a" stroke-width="1.0"/>
<line x1="42.5" y1="232.4" x2="47.3" y2="232.4" stroke="#1a1a1a" stroke-width="1.0"/>
<line x1="228.3" y1="232.4" x2="223.5" y2="232.4" stroke="#1a1a1a" stroke-width="1.0"/>
<line x1="42.5" y1="192.47" x2="47.3" y2="192.47" stroke="#1a1a1a" stroke-width="1.0"/>
<line x1="228.3" y1="192.47" x2="223.5" y2="192.47" stroke="#1a1a1a" stroke-width="1.0"/>
<line x1="42.5" y1="252.37" x2="45.2" y2="252.37" stroke="#1a1a1a" stroke-width="1.0"/>
<line x1="228.3" y1="252.37" x2="225.6" y2="252.37" stroke="#1a1a1a" stroke-width="1.0"/>
<line x1="42.5" y1="212.43" x2="45.2" y2="212.43" stroke="#1a1a1a" stroke-width="1.0"/>
<line x1="228.3" y1="212.43" x2="225.6" y2="212.43" stroke="#1a1a1a" stroke-width="1.0"/>
<line x1="42.5" y1="172.5" x2="45.2" y2="172.5" stroke="#1a1a1a" stroke-width="1.0"/>
<line x1="228.3" y1="172.5" x2="225.6" y2="172.5" stroke="#1a1a1a" stroke-width="1.0"/>
<text x="37.3" y="275.83" font-size="11" text-anchor="end" font-weight="normal" font-style="normal">20</text>
<text x="37.3" y="235.9" font-size="11" text-anchor="end" font-weight="normal" font-style="normal">30</text>
<text x="37.3" y="195.97" font-size="11" text-anchor="end" font-weight="normal" font-style="normal">40</text>
<text x="42.5" y="305.4" font-size="11" text-anchor="middle" font-weight="normal" font-style="normal">0</text>
<text x="103.42" y="305.4" font-size="11" text-anchor="middle" font-weight="normal" font-style="normal">100</text>
<text x="164.34" y="305.4" font-size="11" text-anchor="middle" font-weight="normal" font-style="normal">200</text>
<text x="225.25" y="305.4" font-size="11" text-anchor="middle" font-weight="normal" font-style="normal">300</text>
<text x="47.8" y="186.6" font-size="11.5" text-anchor="start" font-weight="normal" font-style="normal">(d)</text>
<text x="181.4" y="233" font-size="11.3" font-style="italic">T<tspan font-size="9" dy="-2" dx="-0.5">*</tspan></text>
<text x="135" y="317.4" font-size="11.5" text-anchor="middle">Temperature (K)</text>
<text transform="translate(17.6,232.5) rotate(-90)" font-size="11.5" text-anchor="middle"><tspan font-size="11.5">SW</tspan><tspan font-size="7.36" style="stroke-width:0.2px" dy="2.88">0</tspan><tspan font-size="7.36" style="stroke-width:0.2px" dy="-7.71" dx="-4">360</tspan><tspan font-size="11.5" dy="4.83"> (10</tspan><tspan font-size="7.36" style="stroke-width:0.2px" dy="-4.83">3</tspan><tspan font-size="11.5" dy="4.83"> </tspan><tspan font-size="12.88">Ω</tspan><tspan font-size="7.36" style="stroke-width:0.2px" dy="-4.83">-1</tspan><tspan font-size="11.5" dy="4.83"> cm</tspan><tspan font-size="7.36" style="stroke-width:0.2px" dy="-4.83">-2</tspan><tspan font-size="11.5" dy="4.83">)</tspan></text>
<rect x="388.6" y="172.5" width="14.81" height="119.80000000000001" fill="#c0c0c0"/>
<path d="M272.8 198.86 L284.99 201.25 L297.18 204.85 L312.41 213.23 L327.65 224.01 L342.89 236.59 L358.13 245.88 L373.36 254.56 L388.6 259.95 L403.84 264.75 L419.08 269.84 L434.31 272.53 L449.55 275.53" fill="none" stroke="#111" stroke-width="0.9" stroke-linejoin="round" stroke-linecap="round" stroke-dasharray="4 3"/>
<circle cx="272.8" cy="198.86" r="4.7" fill="#0a80ff" stroke="#111" stroke-width="1"/>
<circle cx="284.99" cy="201.25" r="4.7" fill="#0a80ff" stroke="#111" stroke-width="1"/>
<circle cx="297.18" cy="204.85" r="4.7" fill="#0a80ff" stroke="#111" stroke-width="1"/>
<circle cx="312.41" cy="213.23" r="4.7" fill="#0a80ff" stroke="#111" stroke-width="1"/>
<circle cx="327.65" cy="224.01" r="4.7" fill="#0a80ff" stroke="#111" stroke-width="1"/>
<circle cx="342.89" cy="236.59" r="4.7" fill="#0a80ff" stroke="#111" stroke-width="1"/>
<circle cx="358.13" cy="245.88" r="4.7" fill="#0a80ff" stroke="#111" stroke-width="1"/>
<circle cx="373.36" cy="254.56" r="4.7" fill="#0a80ff" stroke="#111" stroke-width="1"/>
<circle cx="388.6" cy="259.95" r="4.7" fill="#0a80ff" stroke="#111" stroke-width="1"/>
<circle cx="403.84" cy="264.75" r="4.7" fill="#0a80ff" stroke="#111" stroke-width="1"/>
<circle cx="419.08" cy="269.84" r="4.7" fill="#0a80ff" stroke="#111" stroke-width="1"/>
<circle cx="434.31" cy="272.53" r="4.7" fill="#0a80ff" stroke="#111" stroke-width="1"/>
<circle cx="449.55" cy="275.53" r="4.7" fill="#0a80ff" stroke="#111" stroke-width="1"/>
<path d="M347.7 252.2 L453 277.3" fill="none" stroke="#111" stroke-width="1.3" stroke-linejoin="round" stroke-linecap="round" stroke-dasharray="5 4"/>
<rect x="266.7" y="172.5" width="185.9" height="119.8" fill="none" stroke="#1a1a1a" stroke-width="1.25"/>
<line x1="266.7" y1="292.3" x2="266.7" y2="287.5" stroke="#1a1a1a" stroke-width="1.0"/>
<line x1="266.7" y1="172.5" x2="266.7" y2="177.3" stroke="#1a1a1a" stroke-width="1.0"/>
<line x1="327.65" y1="292.3" x2="327.65" y2="287.5" stroke="#1a1a1a" stroke-width="1.0"/>
<line x1="327.65" y1="172.5" x2="327.65" y2="177.3" stroke="#1a1a1a" stroke-width="1.0"/>
<line x1="388.6" y1="292.3" x2="388.6" y2="287.5" stroke="#1a1a1a" stroke-width="1.0"/>
<line x1="388.6" y1="172.5" x2="388.6" y2="177.3" stroke="#1a1a1a" stroke-width="1.0"/>
<line x1="449.55" y1="292.3" x2="449.55" y2="287.5" stroke="#1a1a1a" stroke-width="1.0"/>
<line x1="449.55" y1="172.5" x2="449.55" y2="177.3" stroke="#1a1a1a" stroke-width="1.0"/>
<line x1="281.94" y1="292.3" x2="281.94" y2="289.6" stroke="#1a1a1a" stroke-width="1.0"/>
<line x1="281.94" y1="172.5" x2="281.94" y2="175.2" stroke="#1a1a1a" stroke-width="1.0"/>
<line x1="297.18" y1="292.3" x2="297.18" y2="289.6" stroke="#1a1a1a" stroke-width="1.0"/>
<line x1="297.18" y1="172.5" x2="297.18" y2="175.2" stroke="#1a1a1a" stroke-width="1.0"/>
<line x1="312.41" y1="292.3" x2="312.41" y2="289.6" stroke="#1a1a1a" stroke-width="1.0"/>
<line x1="312.41" y1="172.5" x2="312.41" y2="175.2" stroke="#1a1a1a" stroke-width="1.0"/>
<line x1="342.89" y1="292.3" x2="342.89" y2="289.6" stroke="#1a1a1a" stroke-width="1.0"/>
<line x1="342.89" y1="172.5" x2="342.89" y2="175.2" stroke="#1a1a1a" stroke-width="1.0"/>
<line x1="358.13" y1="292.3" x2="358.13" y2="289.6" stroke="#1a1a1a" stroke-width="1.0"/>
<line x1="358.13" y1="172.5" x2="358.13" y2="175.2" stroke="#1a1a1a" stroke-width="1.0"/>
<line x1="373.36" y1="292.3" x2="373.36" y2="289.6" stroke="#1a1a1a" stroke-width="1.0"/>
<line x1="373.36" y1="172.5" x2="373.36" y2="175.2" stroke="#1a1a1a" stroke-width="1.0"/>
<line x1="403.84" y1="292.3" x2="403.84" y2="289.6" stroke="#1a1a1a" stroke-width="1.0"/>
<line x1="403.84" y1="172.5" x2="403.84" y2="175.2" stroke="#1a1a1a" stroke-width="1.0"/>
<line x1="419.08" y1="292.3" x2="419.08" y2="289.6" stroke="#1a1a1a" stroke-width="1.0"/>
<line x1="419.08" y1="172.5" x2="419.08" y2="175.2" stroke="#1a1a1a" stroke-width="1.0"/>
<line x1="434.31" y1="292.3" x2="434.31" y2="289.6" stroke="#1a1a1a" stroke-width="1.0"/>
<line x1="434.31" y1="172.5" x2="434.31" y2="175.2" stroke="#1a1a1a" stroke-width="1.0"/>
<line x1="266.7" y1="292.3" x2="271.5" y2="292.3" stroke="#1a1a1a" stroke-width="1.0"/>
<line x1="452.6" y1="292.3" x2="447.8" y2="292.3" stroke="#1a1a1a" stroke-width="1.0"/>
<line x1="266.7" y1="262.35" x2="271.5" y2="262.35" stroke="#1a1a1a" stroke-width="1.0"/>
<line x1="452.6" y1="262.35" x2="447.8" y2="262.35" stroke="#1a1a1a" stroke-width="1.0"/>
<line x1="266.7" y1="232.4" x2="271.5" y2="232.4" stroke="#1a1a1a" stroke-width="1.0"/>
<line x1="452.6" y1="232.4" x2="447.8" y2="232.4" stroke="#1a1a1a" stroke-width="1.0"/>
<line x1="266.7" y1="202.45" x2="271.5" y2="202.45" stroke="#1a1a1a" stroke-width="1.0"/>
<line x1="452.6" y1="202.45" x2="447.8" y2="202.45" stroke="#1a1a1a" stroke-width="1.0"/>
<line x1="266.7" y1="277.32" x2="269.4" y2="277.32" stroke="#1a1a1a" stroke-width="1.0"/>
<line x1="452.6" y1="277.32" x2="449.9" y2="277.32" stroke="#1a1a1a" stroke-width="1.0"/>
<line x1="266.7" y1="247.38" x2="269.4" y2="247.38" stroke="#1a1a1a" stroke-width="1.0"/>
<line x1="452.6" y1="247.38" x2="449.9" y2="247.38" stroke="#1a1a1a" stroke-width="1.0"/>
<line x1="266.7" y1="217.43" x2="269.4" y2="217.43" stroke="#1a1a1a" stroke-width="1.0"/>
<line x1="452.6" y1="217.43" x2="449.9" y2="217.43" stroke="#1a1a1a" stroke-width="1.0"/>
<line x1="266.7" y1="187.48" x2="269.4" y2="187.48" stroke="#1a1a1a" stroke-width="1.0"/>
<line x1="452.6" y1="187.48" x2="449.9" y2="187.48" stroke="#1a1a1a" stroke-width="1.0"/>
<text x="261.5" y="295.8" font-size="11" text-anchor="end" font-weight="normal" font-style="normal">0</text>
<text x="261.5" y="265.85" font-size="11" text-anchor="end" font-weight="normal" font-style="normal">5</text>
<text x="261.5" y="235.9" font-size="11" text-anchor="end" font-weight="normal" font-style="normal">10</text>
<text x="261.5" y="205.95" font-size="11" text-anchor="end" font-weight="normal" font-style="normal">15</text>
<text x="266.7" y="305.4" font-size="11" text-anchor="middle" font-weight="normal" font-style="normal">0</text>
<text x="327.65" y="305.4" font-size="11" text-anchor="middle" font-weight="normal" font-style="normal">100</text>
<text x="388.6" y="305.4" font-size="11" text-anchor="middle" font-weight="normal" font-style="normal">200</text>
<text x="449.55" y="305.4" font-size="11" text-anchor="middle" font-weight="normal" font-style="normal">300</text>
<text x="272.3" y="186.4" font-size="11.5" text-anchor="start" font-weight="normal" font-style="normal">(e)</text>
<text x="274.8" y="273.7" font-size="11.3">C<tspan font-size="9.5" dy="-1.4">*</tspan><tspan dy="1.4"> feature</tspan></text>
<text x="406.8" y="233" font-size="11.3" font-style="italic">T<tspan font-size="9" dy="-2" dx="-0.5">*</tspan></text>
<text x="360" y="317.4" font-size="11.5" text-anchor="middle">Temperature (K)</text>
<text transform="translate(247,234.8) rotate(-90)" font-size="11.3" text-anchor="middle"><tspan font-size="11.3">SW</tspan><tspan font-size="7.23" style="stroke-width:0.2px" dy="2.83">ph</tspan><tspan font-size="11.3" dy="-2.83" dx="3">(10</tspan><tspan font-size="7.23" style="stroke-width:0.2px" dy="-4.75">3</tspan><tspan font-size="11.3" dy="4.75"> </tspan><tspan font-size="12.66">Ω</tspan><tspan font-size="7.23" style="stroke-width:0.2px" dy="-4.75">-1</tspan><tspan font-size="11.3" dy="4.75"> cm</tspan><tspan font-size="7.23" style="stroke-width:0.2px" dy="-4.75">-2</tspan><tspan font-size="11.3" dy="4.75">)</tspan></text>
<rect x="620.84" y="172.5" width="14.8" height="119.80000000000001" fill="#c0c0c0"/>
<path d="M505.09 199.57 L517.28 201.25 L529.46 203.89 L544.69 209.88 L559.92 220.66 L575.15 235.04 L590.38 245.1 L605.61 257.32 L620.84 261.87 L636.07 264.99 L651.3 267.62 L666.52 270.26 L681.75 272.65" fill="none" stroke="#111" stroke-width="0.9" stroke-linejoin="round" stroke-linecap="round" stroke-dasharray="4 3"/>
<rect x="500.99" y="195.47" width="8.2" height="8.2" fill="#ff8000" stroke="#111" stroke-width="1" transform="rotate(45 505.09 199.57)"/>
<rect x="513.18" y="197.15" width="8.2" height="8.2" fill="#ff8000" stroke="#111" stroke-width="1" transform="rotate(45 517.28 201.25)"/>
<rect x="525.36" y="199.79" width="8.2" height="8.2" fill="#ff8000" stroke="#111" stroke-width="1" transform="rotate(45 529.46 203.89)"/>
<rect x="540.59" y="205.78" width="8.2" height="8.2" fill="#ff8000" stroke="#111" stroke-width="1" transform="rotate(45 544.69 209.88)"/>
<rect x="555.82" y="216.56" width="8.2" height="8.2" fill="#ff8000" stroke="#111" stroke-width="1" transform="rotate(45 559.92 220.66)"/>
<rect x="571.05" y="230.94" width="8.2" height="8.2" fill="#ff8000" stroke="#111" stroke-width="1" transform="rotate(45 575.15 235.04)"/>
<rect x="586.28" y="241" width="8.2" height="8.2" fill="#ff8000" stroke="#111" stroke-width="1" transform="rotate(45 590.38 245.1)"/>
<rect x="601.51" y="253.22" width="8.2" height="8.2" fill="#ff8000" stroke="#111" stroke-width="1" transform="rotate(45 605.61 257.32)"/>
<rect x="616.74" y="257.77" width="8.2" height="8.2" fill="#ff8000" stroke="#111" stroke-width="1" transform="rotate(45 620.84 261.87)"/>
<rect x="631.97" y="260.89" width="8.2" height="8.2" fill="#ff8000" stroke="#111" stroke-width="1" transform="rotate(45 636.07 264.99)"/>
<rect x="647.2" y="263.52" width="8.2" height="8.2" fill="#ff8000" stroke="#111" stroke-width="1" transform="rotate(45 651.3 267.62)"/>
<rect x="662.42" y="266.16" width="8.2" height="8.2" fill="#ff8000" stroke="#111" stroke-width="1" transform="rotate(45 666.52 270.26)"/>
<rect x="677.65" y="268.55" width="8.2" height="8.2" fill="#ff8000" stroke="#111" stroke-width="1" transform="rotate(45 681.75 272.65)"/>
<path d="M580 255 L684.6 274" fill="none" stroke="#111" stroke-width="1.3" stroke-linejoin="round" stroke-linecap="round" stroke-dasharray="5 4"/>
<rect x="499" y="172.5" width="185.8" height="119.8" fill="none" stroke="#1a1a1a" stroke-width="1.25"/>
<line x1="499" y1="292.3" x2="499" y2="287.5" stroke="#1a1a1a" stroke-width="1.0"/>
<line x1="499" y1="172.5" x2="499" y2="177.3" stroke="#1a1a1a" stroke-width="1.0"/>
<line x1="559.92" y1="292.3" x2="559.92" y2="287.5" stroke="#1a1a1a" stroke-width="1.0"/>
<line x1="559.92" y1="172.5" x2="559.92" y2="177.3" stroke="#1a1a1a" stroke-width="1.0"/>
<line x1="620.84" y1="292.3" x2="620.84" y2="287.5" stroke="#1a1a1a" stroke-width="1.0"/>
<line x1="620.84" y1="172.5" x2="620.84" y2="177.3" stroke="#1a1a1a" stroke-width="1.0"/>
<line x1="681.75" y1="292.3" x2="681.75" y2="287.5" stroke="#1a1a1a" stroke-width="1.0"/>
<line x1="681.75" y1="172.5" x2="681.75" y2="177.3" stroke="#1a1a1a" stroke-width="1.0"/>
<line x1="514.23" y1="292.3" x2="514.23" y2="289.6" stroke="#1a1a1a" stroke-width="1.0"/>
<line x1="514.23" y1="172.5" x2="514.23" y2="175.2" stroke="#1a1a1a" stroke-width="1.0"/>
<line x1="529.46" y1="292.3" x2="529.46" y2="289.6" stroke="#1a1a1a" stroke-width="1.0"/>
<line x1="529.46" y1="172.5" x2="529.46" y2="175.2" stroke="#1a1a1a" stroke-width="1.0"/>
<line x1="544.69" y1="292.3" x2="544.69" y2="289.6" stroke="#1a1a1a" stroke-width="1.0"/>
<line x1="544.69" y1="172.5" x2="544.69" y2="175.2" stroke="#1a1a1a" stroke-width="1.0"/>
<line x1="575.15" y1="292.3" x2="575.15" y2="289.6" stroke="#1a1a1a" stroke-width="1.0"/>
<line x1="575.15" y1="172.5" x2="575.15" y2="175.2" stroke="#1a1a1a" stroke-width="1.0"/>
<line x1="590.38" y1="292.3" x2="590.38" y2="289.6" stroke="#1a1a1a" stroke-width="1.0"/>
<line x1="590.38" y1="172.5" x2="590.38" y2="175.2" stroke="#1a1a1a" stroke-width="1.0"/>
<line x1="605.61" y1="292.3" x2="605.61" y2="289.6" stroke="#1a1a1a" stroke-width="1.0"/>
<line x1="605.61" y1="172.5" x2="605.61" y2="175.2" stroke="#1a1a1a" stroke-width="1.0"/>
<line x1="636.07" y1="292.3" x2="636.07" y2="289.6" stroke="#1a1a1a" stroke-width="1.0"/>
<line x1="636.07" y1="172.5" x2="636.07" y2="175.2" stroke="#1a1a1a" stroke-width="1.0"/>
<line x1="651.3" y1="292.3" x2="651.3" y2="289.6" stroke="#1a1a1a" stroke-width="1.0"/>
<line x1="651.3" y1="172.5" x2="651.3" y2="175.2" stroke="#1a1a1a" stroke-width="1.0"/>
<line x1="666.52" y1="292.3" x2="666.52" y2="289.6" stroke="#1a1a1a" stroke-width="1.0"/>
<line x1="666.52" y1="172.5" x2="666.52" y2="175.2" stroke="#1a1a1a" stroke-width="1.0"/>
<line x1="499" y1="292.3" x2="503.8" y2="292.3" stroke="#1a1a1a" stroke-width="1.0"/>
<line x1="684.8" y1="292.3" x2="680" y2="292.3" stroke="#1a1a1a" stroke-width="1.0"/>
<line x1="499" y1="244.38" x2="503.8" y2="244.38" stroke="#1a1a1a" stroke-width="1.0"/>
<line x1="684.8" y1="244.38" x2="680" y2="244.38" stroke="#1a1a1a" stroke-width="1.0"/>
<line x1="499" y1="196.46" x2="503.8" y2="196.46" stroke="#1a1a1a" stroke-width="1.0"/>
<line x1="684.8" y1="196.46" x2="680" y2="196.46" stroke="#1a1a1a" stroke-width="1.0"/>
<line x1="499" y1="268.34" x2="501.7" y2="268.34" stroke="#1a1a1a" stroke-width="1.0"/>
<line x1="684.8" y1="268.34" x2="682.1" y2="268.34" stroke="#1a1a1a" stroke-width="1.0"/>
<line x1="499" y1="220.42" x2="501.7" y2="220.42" stroke="#1a1a1a" stroke-width="1.0"/>
<line x1="684.8" y1="220.42" x2="682.1" y2="220.42" stroke="#1a1a1a" stroke-width="1.0"/>
<line x1="499" y1="172.5" x2="501.7" y2="172.5" stroke="#1a1a1a" stroke-width="1.0"/>
<line x1="684.8" y1="172.5" x2="682.1" y2="172.5" stroke="#1a1a1a" stroke-width="1.0"/>
<text x="494.3" y="295.8" font-size="11" text-anchor="end" font-weight="normal" font-style="normal">0</text>
<text x="494.3" y="247.88" font-size="11" text-anchor="end" font-weight="normal" font-style="normal">2</text>
<text x="494.3" y="199.96" font-size="11" text-anchor="end" font-weight="normal" font-style="normal">4</text>
<text x="499" y="305.4" font-size="11" text-anchor="middle" font-weight="normal" font-style="normal">0</text>
<text x="559.92" y="305.4" font-size="11" text-anchor="middle" font-weight="normal" font-style="normal">100</text>
<text x="620.84" y="305.4" font-size="11" text-anchor="middle" font-weight="normal" font-style="normal">200</text>
<text x="681.75" y="305.4" font-size="11" text-anchor="middle" font-weight="normal" font-style="normal">300</text>
<text x="505" y="186.4" font-size="11.5" text-anchor="start" font-weight="normal" font-style="normal">(f)</text>
<text x="507.3" y="275.6" font-size="11.3">G<tspan font-size="9.5" dy="-1.4">*</tspan><tspan dy="1.4"> feature</tspan></text>
<text x="638.3" y="233" font-size="11.3" font-style="italic">T<tspan font-size="9" dy="-2" dx="-0.5">*</tspan></text>
<text x="592" y="317.4" font-size="11.5" text-anchor="middle">Temperature (K)</text>
<text transform="translate(479,231.5) rotate(-90)" font-size="11" text-anchor="middle"><tspan font-size="11">SW</tspan><tspan font-size="7.04" style="stroke-width:0.2px" dy="2.75">ph</tspan><tspan font-size="11" dy="-2.75" dx="3">(10</tspan><tspan font-size="7.04" style="stroke-width:0.2px" dy="-4.62">3</tspan><tspan font-size="11" dy="4.62"> </tspan><tspan font-size="12.32">Ω</tspan><tspan font-size="7.04" style="stroke-width:0.2px" dy="-4.62">-1</tspan><tspan font-size="11" dy="4.62"> cm</tspan><tspan font-size="7.04" style="stroke-width:0.2px" dy="-4.62">-2</tspan><tspan font-size="11" dy="4.62">)</tspan></text>
</svg>
</body></html>
